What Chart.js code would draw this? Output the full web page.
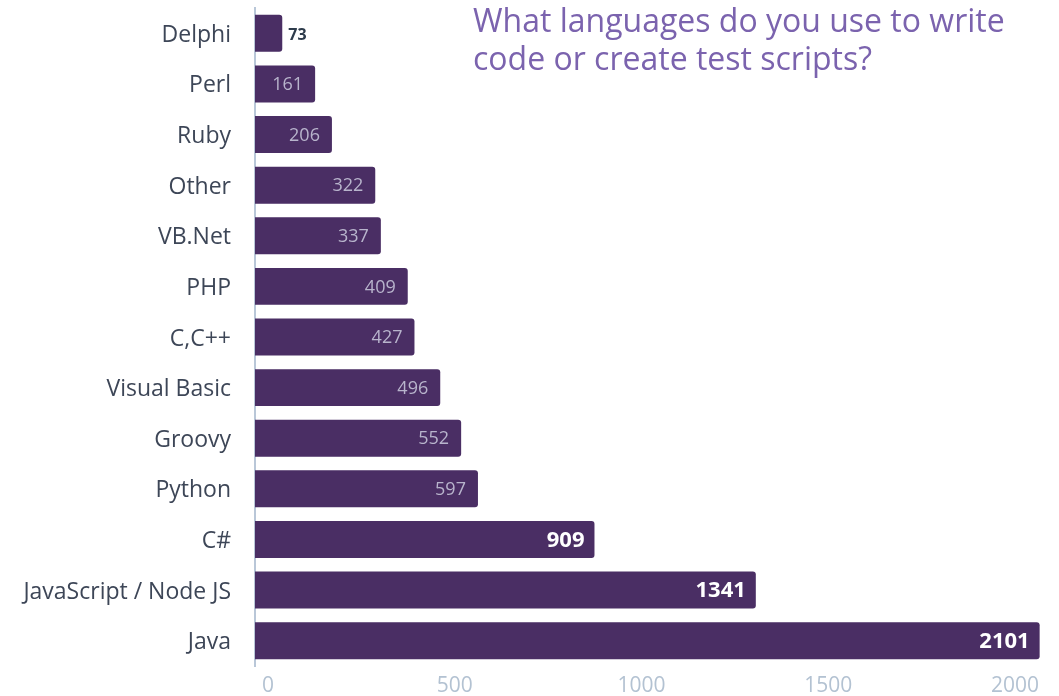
<!DOCTYPE html>
<html>
<head>
<meta charset="utf-8">
<script src="https://cdn.jsdelivr.net/npm/chart.js@4"></script>
<style>
  html, body { margin: 0; padding: 0; background: #fff; }
  #wrap { position: relative; width: 1059px; height: 696px; }
  canvas { display: block; }
  #title {
    position: absolute; left: 473px; top: 1px;
    font: 32px "Open Sans", sans-serif; line-height: 38px;
    color: #7b63ae;
  }
</style>
</head>
<body>
<div id="wrap">
  <canvas id="chart" width="1059" height="696"></canvas>
  <div id="title">What languages do you use to write<br>code or create test scripts?</div>
</div>
<script>
const languages = ['Delphi', 'Perl', 'Ruby', 'Other', 'VB.Net', 'PHP', 'C,C++', 'Visual Basic',
  'Groovy', 'Python', 'C#', 'JavaScript / Node JS', 'Java'];
const counts = [73, 161, 206, 322, 337, 409, 427, 496, 552, 597, 909, 1341, 2101];
const xTicks = [0, 500, 1000, 1500, 2000];

// numbers at the end of each bar: outside for tiny bars, bold white for big ones
const barValues = {
  id: 'barValues',
  afterDatasetsDraw(chart) {
    const ctx = chart.ctx;
    const meta = chart.getDatasetMeta(0);
    ctx.save();
    ctx.textBaseline = 'middle';
    meta.data.forEach((bar, i) => {
      const v = counts[i];
      if (v < 100) {
        ctx.font = 'bold 16px "Open Sans"';
        ctx.fillStyle = '#2d3b4b';
        ctx.textAlign = 'left';
        ctx.fillText(v, bar.x + 6, bar.y + 2);
      } else if (v < 800) {
        ctx.font = '18px "Open Sans"';
        ctx.fillStyle = '#b8b4cc';
        ctx.textAlign = 'right';
        ctx.fillText(v, bar.x - 12, bar.y + 1);
      } else {
        ctx.font = 'bold 22px "Open Sans"';
        ctx.fillStyle = '#ffffff';
        ctx.textAlign = 'right';
        ctx.fillText(v, bar.x - 10, bar.y + 1);
      }
    });
    ctx.restore();
  }
};

new Chart(document.getElementById('chart'), {
  type: 'bar',
  data: {
    labels: languages,
    datasets: [{
      data: counts,
      backgroundColor: '#4a2e64',
      borderRadius: 3,
      borderSkipped: 'start',
      categoryPercentage: 1,
      barPercentage: 0.73
    }]
  },
  options: {
    indexAxis: 'y',
    responsive: false,
    animation: false,
    layout: { padding: { top: 8, right: 16, left: 0, bottom: 0 } },
    plugins: {
      legend: { display: false },
      tooltip: { enabled: false }
    },
    scales: {
      x: {
        min: 0,
        max: 2110,
        grid: { display: false, drawTicks: false },
        border: { display: false },
        afterBuildTicks(scale) { scale.ticks = xTicks.map(v => ({ value: v })); },
        afterFit(scale) {
          scale.height = 30;
          scale.paddingLeft = 0;
          scale.paddingRight = 0;
        },
        ticks: {
          padding: 7,
          labelOffset: 13,
          color: '#b3c2d2',
          font: { family: 'Open Sans', size: 21 },
          callback: v => String(v)
        }
      },
      y: {
        grid: { display: false, drawTicks: false },
        border: { display: true, color: '#b9c7d8', width: 2 },
        afterFit(scale) {
          scale.width = 255;
          scale.paddingTop = 0;
          scale.paddingBottom = 0;
        },
        ticks: {
          padding: 24,
          labelOffset: 2,
          color: '#3d4657',
          font: { family: 'Open Sans', size: 23 }
        }
      }
    }
  },
  plugins: [barValues]
});
</script>
</body>
</html>
